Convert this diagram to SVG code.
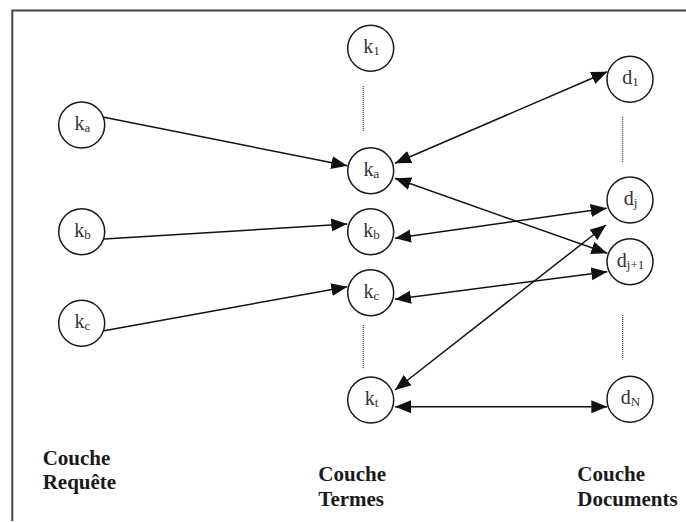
<svg xmlns="http://www.w3.org/2000/svg" width="686" height="522" viewBox="0 0 686 522">
<style>
.node circle{fill:#fff;stroke:#1a1a1a;stroke-width:1.5}
.node text{font-family:"Liberation Serif","Times New Roman",serif;font-size:20px;fill:#333;text-anchor:middle}
.sub{font-size:13px}
.edge{stroke:#111;stroke-width:1.5;fill:none}
.dot{stroke:#333;stroke-width:1.2;stroke-dasharray:1 1;fill:none}
.lbl{font-family:"Liberation Serif","Times New Roman",serif;font-size:21px;font-weight:bold;fill:#1a1a1a}
.frame{stroke:#444;stroke-width:2;fill:none}
</style>
<defs>
<marker id="ah" markerUnits="userSpaceOnUse" markerWidth="17" markerHeight="14" refX="16" refY="6.5" orient="auto-start-reverse">
<path d="M0,0 L16,6.5 L0,13 z" fill="#111"/>
</marker>
</defs>
<path class="frame" d="M686,10.5 H12.3 V521"/>
<g id="connectors">
<line class="edge" x1="104" y1="117.3" x2="347.3" y2="165.7" marker-end="url(#ah)"/>
<line class="edge" x1="104" y1="239" x2="347.3" y2="224" marker-end="url(#ah)"/>
<line class="edge" x1="104" y1="330.7" x2="347.3" y2="286.7" marker-end="url(#ah)"/>
<line class="edge" x1="395" y1="163.3" x2="607.3" y2="71.7" marker-start="url(#ah)" marker-end="url(#ah)"/>
<line class="edge" x1="395" y1="178.3" x2="607.3" y2="253.3" marker-start="url(#ah)" marker-end="url(#ah)"/>
<line class="edge" x1="395" y1="238.3" x2="606.7" y2="208.3" marker-start="url(#ah)" marker-end="url(#ah)"/>
<line class="edge" x1="395" y1="299.3" x2="607.3" y2="271.7" marker-start="url(#ah)" marker-end="url(#ah)"/>
<line class="edge" x1="395" y1="390" x2="606" y2="225" marker-start="url(#ah)" marker-end="url(#ah)"/>
<line class="edge" x1="395" y1="406.7" x2="607.3" y2="406.7" marker-start="url(#ah)" marker-end="url(#ah)"/>
<line class="dot" x1="363.3" y1="86" x2="363.3" y2="130.7"/>
<line class="dot" x1="363.3" y1="325" x2="363.3" y2="369.3"/>
<line class="dot" x1="622.7" y1="116.7" x2="622.7" y2="161.7"/>
<line class="dot" x1="622.7" y1="315" x2="622.7" y2="359.3"/>
</g>
<g id="q-ka" class="node"><circle cx="81.7" cy="125" r="23"/><text x="82.5" y="130">k<tspan class="sub" dy="2">a</tspan></text></g>
<g id="q-kb" class="node"><circle cx="81.7" cy="231.7" r="23"/><text x="82.5" y="236.7">k<tspan class="sub" dy="2">b</tspan></text></g>
<g id="q-kc" class="node"><circle cx="81.7" cy="323.3" r="23"/><text x="82.5" y="328.3">k<tspan class="sub" dy="2">c</tspan></text></g>
<g id="t-k1" class="node"><circle cx="370.7" cy="48.3" r="23"/><text x="371.5" y="53.3">k<tspan class="sub" dy="2">1</tspan></text></g>
<g id="t-ka" class="node"><circle cx="370.7" cy="170.7" r="23"/><text x="371.5" y="175.5">k<tspan class="sub" dy="2">a</tspan></text></g>
<g id="t-kb" class="node"><circle cx="370.7" cy="231.7" r="23"/><text x="371.5" y="236.7">k<tspan class="sub" dy="2">b</tspan></text></g>
<g id="t-kc" class="node"><circle cx="370.7" cy="292.7" r="23"/><text x="371.5" y="297.7">k<tspan class="sub" dy="2">c</tspan></text></g>
<g id="t-kt" class="node"><circle cx="370.7" cy="400" r="23"/><text x="371.5" y="405">k<tspan class="sub" dy="2">t</tspan></text></g>
<g id="d-1" class="node"><circle cx="630" cy="79.3" r="23"/><text x="630.5" y="84.3">d<tspan class="sub" dy="2">1</tspan></text></g>
<g id="d-j" class="node"><circle cx="630" cy="200" r="23"/><text x="630.5" y="205">d<tspan class="sub" dy="2">j</tspan></text></g>
<g id="d-j1" class="node"><circle cx="630" cy="261.7" r="23"/><text x="630.5" y="266.7">d<tspan class="sub" dy="2">j+1</tspan></text></g>
<g id="d-N" class="node"><circle cx="630" cy="399.3" r="23"/><text x="630.5" y="404.3">d<tspan class="sub" dy="2">N</tspan></text></g>
<g id="labels">
<text class="lbl" x="42.7" y="465">Couche</text>
<text class="lbl" x="42.7" y="489">Requête</text>
<text class="lbl" x="318.3" y="480.7">Couche</text>
<text class="lbl" x="318.3" y="506">Termes</text>
<text class="lbl" x="577.3" y="480.7">Couche</text>
<text class="lbl" x="577.3" y="506">Documents</text>
</g>
</svg>
